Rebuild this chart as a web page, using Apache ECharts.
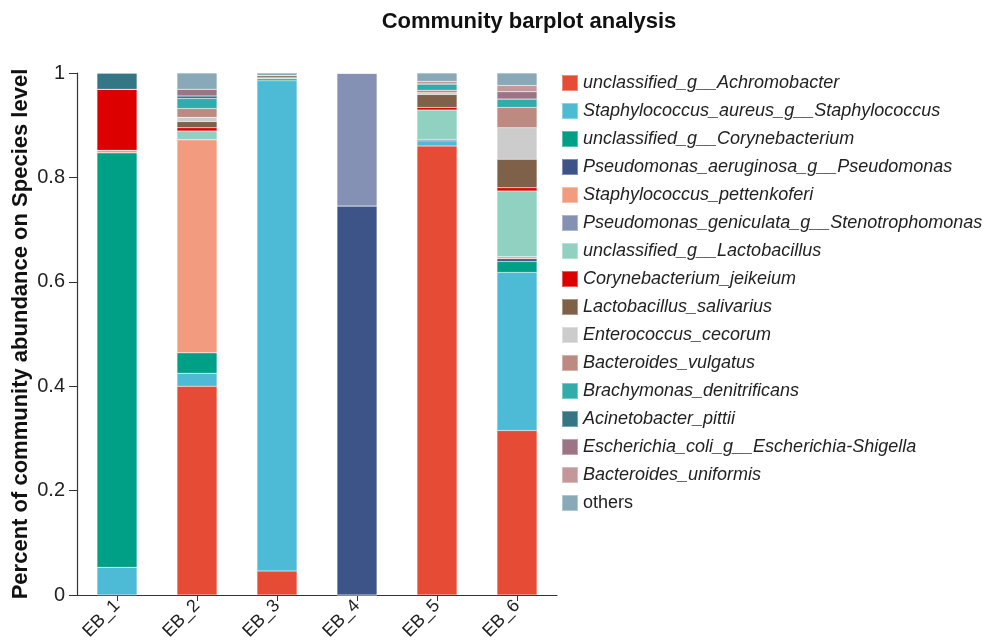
<!DOCTYPE html>
<html>
<head>
<meta charset="utf-8">
<script src="https://cdn.jsdelivr.net/npm/echarts@6/dist/echarts.min.js"></script>
<style>
  html, body { margin: 0; padding: 0; background: #fff; }
  #chart { width: 985px; height: 643px; }
</style>
</head>
<body>
<div id="chart"></div>
<script>
// Sample names on the x axis
const samples = ['EB_1', 'EB_2', 'EB_3', 'EB_4', 'EB_5', 'EB_6'];

// Relative abundance of each species per sample (stacked bottom to top)
const unclassified_g__Achromobacter            = [0,     0.400, 0.046, 0,     0.860, 0.315];
const Staphylococcus_aureus_g__Staphylococcus  = [0.053, 0.025, 0.939, 0,     0.010, 0.303];
const unclassified_g__Corynebacterium          = [0.794, 0.039, 0.004, 0,     0,     0.021];
const Pseudomonas_aeruginosa_g__Pseudomonas    = [0,     0,     0,     0.745, 0.003, 0.005];
const Staphylococcus_pettenkoferi              = [0.005, 0.408, 0,     0,     0,     0.004];
const Pseudomonas_geniculata_g__Stenotrophomonas = [0,   0,     0,     0.255, 0,     0];
const unclassified_g__Lactobacillus            = [0,     0.017, 0.002, 0,     0.056, 0.126];
const Corynebacterium_jeikeium                 = [0.117, 0.006, 0,     0,     0.005, 0.006];
const Lactobacillus_salivarius                 = [0,     0.012, 0.004, 0,     0.025, 0.055];
const Enterococcus_cecorum                     = [0,     0.008, 0,     0,     0.003, 0.060];
const Bacteroides_vulgatus                     = [0,     0.017, 0,     0,     0.005, 0.039];
const Brachymonas_denitrificans                = [0,     0.019, 0,     0,     0.012, 0.016];
const Acinetobacter_pittii                     = [0.031, 0.005, 0,     0,     0,     0];
const Escherichia_coli_g__Escherichia_Shigella = [0,     0.013, 0,     0,     0,     0.014];
const Bacteroides_uniformis                    = [0,     0,     0,     0,     0.005, 0.012];
const others                                   = [0,     0.031, 0.005, 0,     0.016, 0.024];

const speciesNames = [
  'unclassified_g__Achromobacter',
  'Staphylococcus_aureus_g__Staphylococcus',
  'unclassified_g__Corynebacterium',
  'Pseudomonas_aeruginosa_g__Pseudomonas',
  'Staphylococcus_pettenkoferi',
  'Pseudomonas_geniculata_g__Stenotrophomonas',
  'unclassified_g__Lactobacillus',
  'Corynebacterium_jeikeium',
  'Lactobacillus_salivarius',
  'Enterococcus_cecorum',
  'Bacteroides_vulgatus',
  'Brachymonas_denitrificans',
  'Acinetobacter_pittii',
  'Escherichia_coli_g__Escherichia-Shigella',
  'Bacteroides_uniformis',
  'others'
];

const speciesValues = [
  unclassified_g__Achromobacter,
  Staphylococcus_aureus_g__Staphylococcus,
  unclassified_g__Corynebacterium,
  Pseudomonas_aeruginosa_g__Pseudomonas,
  Staphylococcus_pettenkoferi,
  Pseudomonas_geniculata_g__Stenotrophomonas,
  unclassified_g__Lactobacillus,
  Corynebacterium_jeikeium,
  Lactobacillus_salivarius,
  Enterococcus_cecorum,
  Bacteroides_vulgatus,
  Brachymonas_denitrificans,
  Acinetobacter_pittii,
  Escherichia_coli_g__Escherichia_Shigella,
  Bacteroides_uniformis,
  others
];

const palette = [
  '#E64B35', '#4DBBD5', '#00A087', '#3C5488', '#F39B7F', '#8491B4',
  '#91D1C2', '#DC0000', '#7E6148', '#CCCCCC', '#BC8A80', '#31ACAA',
  '#347686', '#9C7486', '#C4979B', '#8AA9B8'
];

const yTicks = ['0', '0.2', '0.4', '0.6', '0.8', '1'];

const chart = echarts.init(document.getElementById('chart'), null, { renderer: 'canvas' });

const FONT = 'Liberation Sans, Arial, sans-serif';

chart.setOption({
  backgroundColor: '#ffffff',
  animation: false,
  color: palette,
  textStyle: { fontFamily: FONT },
  title: {
    text: 'Community barplot analysis',
    left: 524,
    textAlign: 'center',
    top: 6,
    textStyle: { fontSize: 22, fontWeight: 'bold', color: '#111', fontFamily: FONT }
  },
  legend: {
    orient: 'vertical',
    left: 556,
    top: 69,
    itemWidth: 16,
    itemHeight: 16,
    itemGap: 10,
    itemTextGap: 6,
    icon: 'rect',
    textStyle: { fontSize: 18, color: '#222', fontFamily: FONT },
    data: speciesNames.map(n => ({
      name: n,
      textStyle: { fontStyle: n === 'others' ? 'normal' : 'italic' }
    }))
  },
  grid: {
    left: 77,
    width: 480,
    top: 73,
    bottom: 48,
    containLabel: false
  },
  xAxis: {
    type: 'category',
    data: samples,
    axisLine: { show: true, lineStyle: { color: '#333', width: 1.2 } },
    axisTick: { show: true, alignWithLabel: true, length: 6, lineStyle: { color: '#333' } },
    axisLabel: {
      rotate: 45,
      fontSize: 18,
      color: '#222',
      margin: 8,
      fontFamily: FONT
    }
  },
  yAxis: {
    type: 'value',
    min: 0,
    max: 1,
    interval: 0.2,
    name: 'Percent of community abundance on Species level',
    nameLocation: 'middle',
    nameGap: 45,
    nameTextStyle: { fontSize: 22, fontWeight: 'bold', color: '#111', fontFamily: FONT },
    axisLine: { show: true, lineStyle: { color: '#333', width: 1.2 } },
    axisTick: { show: true, length: 8, lineStyle: { color: '#333' } },
    splitLine: { show: false },
    axisLabel: {
      fontSize: 20,
      color: '#222',
      margin: 12,
      fontFamily: FONT,
      formatter: function (v) {
        const idx = Math.round(v / 0.2);
        return yTicks[idx] !== undefined ? yTicks[idx] : String(v);
      }
    }
  },
  series: speciesNames.map((name, i) => ({
    name: name,
    type: 'bar',
    stack: 'total',
    barWidth: 40,
    data: speciesValues[i],
    itemStyle: { color: palette[i], borderColor: 'rgba(255,255,255,0.35)', borderWidth: 0.5 }
  }))
});
</script>
</body>
</html>
